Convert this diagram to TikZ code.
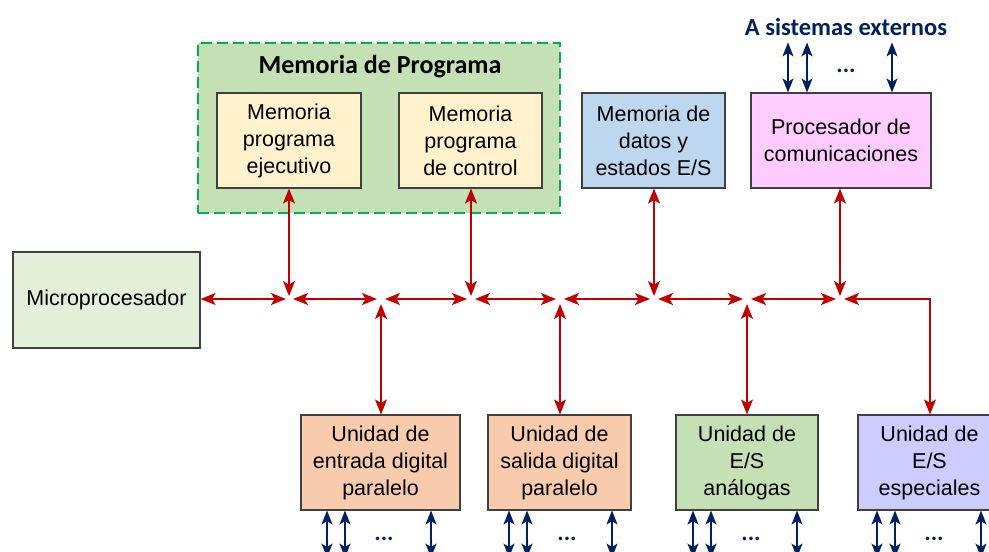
\documentclass[tikz,border=0pt]{standalone}
\usepackage{fontspec}
\setmainfont{Liberation Sans}
\newfontfamily\calib{Carlito}
\usetikzlibrary{arrows.meta}
\definecolor{busred}{HTML}{C00000}
\definecolor{navy}{HTML}{002060}
\definecolor{boxgray}{HTML}{404040}
\definecolor{pgfill}{HTML}{C5E0B4}
\definecolor{pgdash}{HTML}{00B050}
\definecolor{memfill}{HTML}{FFF2CC}
\definecolor{datfill}{HTML}{BDD7EE}
\definecolor{procfill}{HTML}{FFCCFF}
\definecolor{microfill}{HTML}{E2F0D9}
\definecolor{unitfill}{HTML}{F8CBAD}
\definecolor{anafill}{HTML}{C5E0B4}
\definecolor{espfill}{HTML}{CCCCFF}
\begin{document}
\begin{tikzpicture}[x=1pt,y=-1pt,
  box/.style={draw=boxgray, line width=1.1pt, font=\fontsize{21.5}{27}\selectfont, align=center, inner sep=0pt, minimum height=95pt},
  bus/.style={draw=busred, line width=1.6pt, {Stealth[length=15pt,width=12pt,inset=3.5pt]}-{Stealth[length=15pt,width=12pt,inset=3.5pt]}},
  ext/.style={draw=navy, line width=1.7pt, {Stealth[length=14pt,width=11pt,inset=3.5pt]}-{Stealth[length=14pt,width=11pt,inset=3.5pt]}},
  dots/.style={text=navy, font=\calib\bfseries\fontsize{24}{28}\selectfont},
  title/.style={font=\calib\bfseries\fontsize{26}{30}\selectfont}
]
\clip (0,0) rectangle (989,552);
\fill[white] (0,0) rectangle (989,552);

% program memory group
\node[draw=pgdash, fill=pgfill, line width=2pt, dash pattern=on 11pt off 5pt, minimum width=362pt, minimum height=170pt, inner sep=0pt] (pg) at (379,128) {};
\node[title] (pgt) at (380,67) {Memoria de Programa};
\node[box, fill=memfill, minimum width=144pt] (mpe) at (289,140.5) {Memoria\\programa\\ejecutivo};
\node[box, fill=memfill, minimum width=143pt] (mpc) at (470.5,140.5) {Memoria\\programa\\de control};

\node[box, fill=datfill, minimum width=143pt] (dat) at (653.5,140.5) {Memoria de\\datos y\\estados E/S};
\node[box, fill=procfill, minimum width=180pt] (proc) at (841,140.5) {Procesador de\\comunicaciones};

\node[box, fill=microfill, minimum width=187pt, minimum height=96pt] (micro) at (106.5,300) {Microprocesador};

\node[box, fill=unitfill, minimum width=159pt] (ent) at (380.5,462.5) {Unidad de\\entrada digital\\paralelo};
\node[box, fill=unitfill, minimum width=143pt] (sal) at (559.5,462.5) {Unidad de\\salida digital\\paralelo};
\node[box, fill=anafill, minimum width=142pt] (ana) at (747,462.5) {Unidad de\\E/S\\análogas};
\node[box, fill=espfill, minimum width=143pt] (esp) at (929.5,462.5) {Unidad de\\E/S\\especiales};

% bus junctions
\coordinate (j1) at (289,299);
\coordinate (j2) at (381,299);
\coordinate (j3) at (471,299);
\coordinate (j4) at (560,299);
\coordinate (j5) at (654,299);
\coordinate (j6) at (747,299);
\coordinate (j7) at (840,299);
\coordinate (c8) at (930,299);

% horizontal bus
\draw[bus, shorten >=3pt] (micro.east |- j1) -- (j1);
\draw[bus, shorten <=4pt, shorten >=4pt] (j1) -- (j2);
\draw[bus, shorten <=4pt, shorten >=4pt] (j2) -- (j3);
\draw[bus, shorten <=4pt, shorten >=4pt] (j3) -- (j4);
\draw[bus, shorten <=4pt, shorten >=4pt] (j4) -- (j5);
\draw[bus, shorten <=4pt, shorten >=4pt] (j5) -- (j6);
\draw[bus, shorten <=4pt, shorten >=4pt] (j6) -- (j7);
\draw[bus, shorten <=4pt] (j7) -- (c8) -- (esp.north -| c8);

% vertical bus branches
\draw[bus, shorten >=3pt] (mpe.south -| j1) -- (j1);
\draw[bus, shorten >=3pt] (mpc.south -| j3) -- (j3);
\draw[bus, shorten >=3pt] (dat.south -| j5) -- (j5);
\draw[bus, shorten >=3pt] (proc.south -| j7) -- (j7);
\draw[bus, shorten >=5pt] (ent.north -| j2) -- (j2);
\draw[bus, shorten >=5pt] (sal.north -| j4) -- (j4);
\draw[bus, shorten >=5pt] (ana.north -| j6) -- (j6);

% external lines, top
\node[text=navy, font=\calib\bfseries\fontsize{24.5}{28}\selectfont] (ext) at (846,27) {A sistemas externos};
\draw[ext] ([xshift=-53pt]proc.north) -- ++(0,-50);
\draw[ext] ([xshift=-34pt]proc.north) -- ++(0,-50);
\draw[ext] ([xshift=51pt]proc.north) -- ++(0,-50);
\node[dots] (dt) at (846,71) {...};

% external lines, bottom
\foreach \u/\a/\b/\c/\d in {ent/-53.5/-35.5/50.5/3.5, sal/-50.5/-32.5/52.5/7.5, ana/-54/-36/50/4, esp/-52.5/-34.5/51.5/4.5}{
  \draw[ext] ([xshift=\a pt]\u.south) -- ++(0,47);
  \draw[ext] ([xshift=\b pt]\u.south) -- ++(0,47);
  \draw[ext] ([xshift=\c pt]\u.south) -- ++(0,47);
  \node[dots] at ([xshift=\d pt, yshift=-28pt]\u.south) {...};
}
\end{tikzpicture}
\end{document}
